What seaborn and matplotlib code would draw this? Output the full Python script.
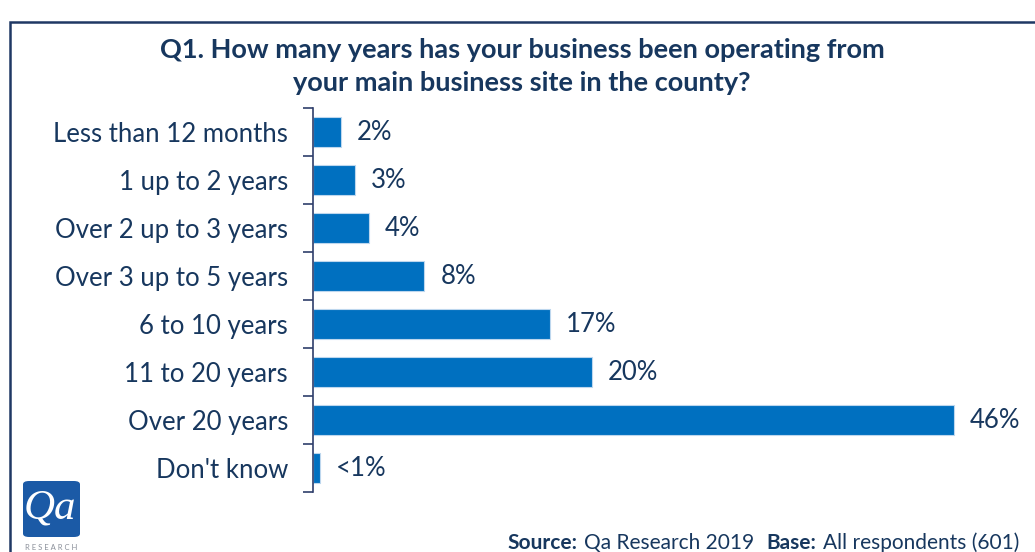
import matplotlib
matplotlib.use("Agg")
import matplotlib.pyplot as plt
import seaborn as sns
import pandas as pd
from matplotlib.patches import Rectangle, FancyBboxPatch

# Survey responses: time operating from main site
categories = ["Less than 12 months", "1 up to 2 years", "Over 2 up to 3 years",
              "Over 3 up to 5 years", "6 to 10 years", "11 to 20 years",
              "Over 20 years", "Don't know"]
values = [2, 3, 4, 8, 17, 20, 46, 0.5]
value_labels = ["2%", "3%", "4%", "8%", "17%", "20%", "46%", "<1%"]

title_line1 = "Q1. How many years has your business been operating from"
title_line2 = "your main business site in the county?"

NAVY = "#17375E"
BAR = "#0070C0"

sns.set_theme(style="white")
plt.rcParams["font.family"] = ["Lato", "DejaVu Sans"]

df = pd.DataFrame({"category": categories, "value": values})

fig = plt.figure(figsize=(10.35, 5.52), dpi=100)
W, H = 1035, 552

def fx(px):
    return px / W

def fy(py):
    return 1 - py / H

ax = fig.add_axes([fx(313), fy(492), fx(1000) - fx(313), fy(108) - fy(492)])
sns.barplot(data=df, x="value", y="category", orient="h", color=BAR,
            saturation=1, width=0.62, edgecolor="#BDD7EE", linewidth=0.8, ax=ax)

px_per_unit = (954 - 313) / 46
ax.set_xlim(0, (1000 - 313) / px_per_unit)
ax.set_ylim(len(categories) - 0.5, -0.5)

for i, (v, lab) in enumerate(zip(values, value_labels)):
    ax.text(v + 16 / px_per_unit, i, lab, va="center", ha="left",
            fontsize=18.5, color=NAVY)

ax.set_xlabel("")
ax.set_ylabel("")
ax.set_xticks([])
ax.set_yticks([i + 0.5 for i in range(-1, len(categories))], minor=True)
ax.tick_params(axis="y", which="major", left=False, length=0, pad=18,
               labelsize=18.5, labelcolor=NAVY)
ax.tick_params(axis="y", which="minor", left=True, length=7, width=1.2,
               color="#2F3E6B", direction="out")
for s in ["top", "right", "bottom"]:
    ax.spines[s].set_visible(False)
ax.spines["left"].set_color("#2F3E6B")
ax.spines["left"].set_linewidth(1.2)

# Title
fig.text(fx(522), fy(50), title_line1, ha="center", va="center", fontsize=19.5,
         fontweight="bold", color=NAVY)
fig.text(fx(522), fy(83), title_line2, ha="center", va="center", fontsize=19.5,
         fontweight="bold", color=NAVY)

# Slide frame
fig.patches.append(Rectangle((fx(10), fy(560)), fx(1040) - fx(10), fy(22) - fy(560),
                             transform=fig.transFigure, fill=False,
                             edgecolor="#1F3864", linewidth=1.8))

# Logo
fig.patches.append(FancyBboxPatch((fx(23), fy(537)), fx(80) - fx(23), fy(481) - fy(537),
                                  boxstyle="round,pad=0,rounding_size=0.006",
                                  transform=fig.transFigure, facecolor="#1B5AA6",
                                  edgecolor="none"))
fig.text(fx(50), fy(508), "Qa", ha="center", va="center", fontsize=31,
         fontstyle="italic", family="Liberation Serif", color="white")
fig.text(fx(51), fy(547), "R E S E A R C H", ha="center", va="center",
         fontsize=5.5, color="#8A8F99")

# Source line
fig.text(fx(507), fy(543), "Source:", ha="left", va="center", fontsize=15,
         fontweight="bold", color=NAVY)
fig.text(fx(584), fy(543), "Qa Research 2019", ha="left", va="center", fontsize=15,
         color=NAVY)
fig.text(fx(766), fy(543), "Base:", ha="left", va="center", fontsize=15,
         fontweight="bold", color=NAVY)
fig.text(fx(823), fy(543), "All respondents (601)", ha="left", va="center", fontsize=15,
         color=NAVY)

fig.savefig("out.png", dpi=100)
